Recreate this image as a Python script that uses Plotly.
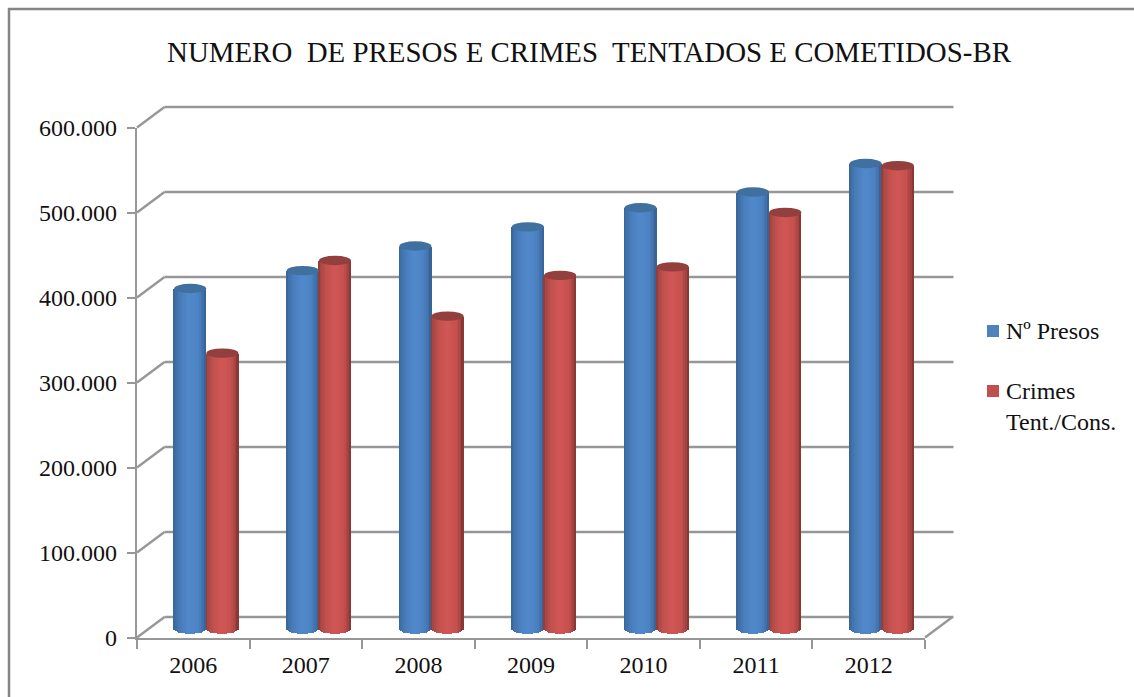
import math
import plotly.graph_objects as go

# ---- data ----
years = ["2006", "2007", "2008", "2009", "2010", "2011", "2012"]
presos = [400000, 421000, 450000, 472500, 495000, 513500, 547000]
crimes = [324000, 433000, 367500, 415500, 425500, 489500, 544500]
y_ticks = [0, 100000, 200000, 300000, 400000, 500000, 600000]
title_text = "NUMERO  DE PRESOS E CRIMES  TENTADOS E COMETIDOS-BR"
legend_labels = ["Nº Presos", "Crimes<br>Tent./Cons."]

# ---- geometry / style ----
W, H = 1134, 697
PX0, PX1, PY0, PY1 = 137, 925, 637.5, 127.5   # front plane of the 3-D box
DX_MID, DY_MID = 13, 9                        # plane where the cylinders stand
DX_BACK, DY_BACK = 27.5, 20.5                 # back wall
YMAX = 600000
YPAD = 20000                                  # room below zero for the rounded cylinder feet
FONT = "Liberation Serif"
GRID = "#979797"
BAR_W = 0.286
STRIPS = 20
ELL = 4.7  # half height of the cylinder ellipses, px
BLUE = [(0, "#37648f"), (.08, "#3f70a8"), (.25, "#4a7fbd"), (.5, "#5289cb"),
        (.78, "#4c82c2"), (.92, "#4171ab"), (1, "#365f8d")]
RED = [(0, "#8a3a38"), (.08, "#a94745"), (.25, "#c2514e"), (.5, "#d05755"),
       (.78, "#c7514e"), (.92, "#a54442"), (1, "#7d3230")]
CAP = ["#40709f", "#923f3d"]
SWATCH = ["#4f81bd", "#c0504d"]


def px(x):
    return x / W


def py(y):
    return 1 - y / H


def shade(stops, t):
    for (a, ca), (b, cb) in zip(stops, stops[1:]):
        if t <= b:
            f = (t - a) / (b - a)
            rgb = [round(int(ca[i:i + 2], 16) * (1 - f) + int(cb[i:i + 2], 16) * f) for i in (1, 3, 5)]
            return "rgb(%d,%d,%d)" % tuple(rgb)
    return stops[-1][1]


unit = YMAX / (PY0 - PY1)  # data units per pixel
fig = go.Figure()

# invisible trace so the category axis carries the year labels
fig.add_trace(go.Scatter(x=years, y=[0] * len(years), mode="none", xaxis="x", yaxis="y",
                         showlegend=False, hoverinfo="skip"))

# cylinders: each is a stack of narrow strips giving the round shading
positions = list(range(len(years)))
for k, (vals, stops) in enumerate([(presos, BLUE), (crimes, RED)]):
    for s in range(STRIPS):
        t = (s + .5) / STRIPS
        u = 2 * t - 1
        dip = ELL * unit * math.sqrt(1 - u * u)
        xs = [p + (k - 1 + t) * BAR_W for p in positions]
        fig.add_trace(go.Bar(x=xs, y=[v + dip for v in vals], base=-dip, width=BAR_W / STRIPS * 1.15,
                             marker=dict(color=shade(stops, t), line_width=0), xaxis="x2", yaxis="y2",
                             showlegend=False, hoverinfo="skip"))

shapes = []


def line(x0, y0, x1, y1, w=2.4, c=GRID):
    shapes.append(dict(type="line", xref="paper", yref="paper", x0=px(x0), y0=py(y0), x1=px(x1), y1=py(y1),
                       line=dict(color=c, width=w), layer="below"))


# back wall gridlines and the diagonal side of the box
for v in y_ticks:
    yf = PY0 - v / unit
    line(PX0, yf, PX0 + DX_BACK, yf - DY_BACK)
    line(PX0 + DX_BACK, yf - DY_BACK, PX1 + DX_BACK + 1, yf - DY_BACK)
line(PX1, PY0, PX1 + DX_BACK, PY0 - DY_BACK)

# cylinder caps
for k, (vals, col) in enumerate(zip([presos, crimes], CAP)):
    for p, v in zip(positions, vals):
        shapes.append(dict(type="circle", xref="x2", yref="y2", x0=p + (k - 1) * BAR_W, x1=p + k * BAR_W,
                           y0=v - ELL * unit, y1=v + ELL * unit, fillcolor=col, line_width=0, layer="above"))

# outer frame (runs off the right and bottom of the picture)
shapes.append(dict(type="rect", xref="paper", yref="paper", x0=px(9), x1=px(1145), y0=py(9), y1=py(710),
                   line=dict(color="#858585", width=2.5), layer="below"))

# legend
annotations = []
for i, (lab, col, yc) in enumerate(zip(legend_labels, SWATCH, [331, 391])):
    shapes.append(dict(type="rect", xref="paper", yref="paper", x0=px(987), x1=px(999), y0=py(yc - 6), y1=py(yc + 6),
                       fillcolor=col, line_width=0))
    annotations.append(dict(text=lab, xref="paper", yref="paper", x=px(1004), y=py(yc - 15), xanchor="left",
                            yanchor="top", align="left", showarrow=False,
                            font=dict(family=FONT, size=24, color="#111111")))

axis_font = dict(family=FONT, size=24, color="#111111")
fig.update_layout(
    template="none",
    width=W, height=H, margin=dict(l=0, r=0, t=0, b=0), autosize=False,
    paper_bgcolor="white", plot_bgcolor="rgba(0,0,0,0)",
    separators=",.", barmode="overlay", bargap=0, showlegend=False,
    title=dict(text=title_text, x=589 / W, xanchor="center", y=py(52), yanchor="middle",
               font=dict(family=FONT, size=28.9, color="#111111")),
    xaxis=dict(type="category", categoryorder="array", categoryarray=years, range=[-.5, 6.5],
               domain=[px(PX0), px(PX1)], anchor="y", tickson="boundaries", ticks="outside", ticklen=9,
               tickwidth=2.4, tickcolor=GRID, showline=True, linecolor=GRID, linewidth=2.4, showgrid=False,
               tickfont=axis_font, zeroline=False, automargin=False, ticklabelstandoff=4),
    yaxis=dict(range=[0, YMAX], domain=[py(PY0), py(PY1)], anchor="x", tickvals=y_ticks, tickformat=",d",
               ticks="outside", ticklen=8, tickwidth=2.4, tickcolor=GRID, showline=True, linecolor=GRID,
               linewidth=2.4, showgrid=False, tickfont=axis_font, zeroline=False, automargin=False,
               ticklabelstandoff=5),
    xaxis2=dict(range=[-.5, 6.5], domain=[px(PX0 + DX_MID), px(PX1 + DX_MID)], anchor="y2", visible=False),
    yaxis2=dict(range=[-YPAD, YMAX], domain=[py(PY0 - DY_MID + YPAD / unit), py(PY1 - DY_MID)], anchor="x2",
                visible=False),
    shapes=shapes, annotations=annotations,
)

fig.write_html("out.html", config={"displayModeBar": False},
               post_script="document.body.style.margin='0';document.documentElement.style.overflow='hidden';")
